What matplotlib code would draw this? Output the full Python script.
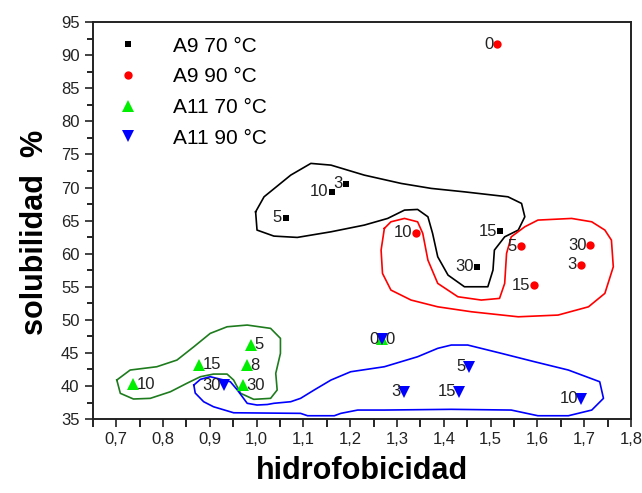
import matplotlib
matplotlib.use("Agg")
import matplotlib.pyplot as plt
from matplotlib.ticker import MultipleLocator, FuncFormatter

plt.rcParams['font.family'] = ['Liberation Sans', 'DejaVu Sans']

# --- data: hydrophobicity (x) vs solubility % (y), labelled by time ---
a9_70_time = [5, 10, 3, 15, 30]
a9_70_x = [1.062, 1.161, 1.191, 1.521, 1.471]
a9_70_y = [65.4, 69.4, 70.6, 63.4, 58.0]

a9_90_time = [0, 10, 5, 15, 30, 3]
a9_90_x = [1.514, 1.341, 1.564, 1.592, 1.712, 1.692]
a9_90_y = [91.7, 63.2, 61.1, 55.2, 61.3, 58.3]

a11_70_time = [0, 5, 8, 15, 30, 10]
a11_70_x = [1.268, 0.989, 0.980, 0.878, 0.971, 0.737]
a11_70_y = [47.1, 46.2, 43.1, 43.2, 40.1, 40.25]

a11_90_time = [0, 5, 3, 15, 10, 30]
a11_90_x = [1.268, 1.454, 1.314, 1.433, 1.694, 0.930]
a11_90_y = [47.1, 42.9, 39.1, 39.1, 38.1, 40.1]

# --- group outlines (closed curves in data units) ---
a9_70_outline_x = [0.998, 1.001, 1.037, 1.087, 1.159, 1.230, 1.280, 1.316, 1.344, 1.366,
                   1.376, 1.387, 1.409, 1.444, 1.494, 1.505, 1.508, 1.530, 1.559, 1.573,
                   1.566, 1.537, 1.444, 1.373, 1.309, 1.230, 1.159, 1.116, 1.073, 1.016]
a9_70_outline_y = [66.33, 63.57, 62.66, 62.46, 63.31, 64.32, 65.33, 66.59, 66.69, 65.58,
                   63.07, 59.53, 56.76, 55.0, 55.0, 57.52, 60.54, 62.55, 63.57, 65.58,
                   67.6, 68.6, 69.35, 69.87, 70.62, 71.88, 73.39, 73.65, 71.88, 68.6]

a9_90_outline_x = [1.273, 1.266, 1.269, 1.287, 1.330, 1.387, 1.459, 1.559, 1.644, 1.709,
                   1.744, 1.762, 1.758, 1.744, 1.716, 1.673, 1.601, 1.573, 1.544, 1.534,
                   1.530, 1.519, 1.480, 1.430, 1.387, 1.366, 1.355, 1.344, 1.316, 1.287]
a9_90_outline_y = [63.82, 60.54, 57.02, 54.5, 52.99, 51.97, 51.22, 50.46, 50.72, 51.97,
                   54.0, 58.02, 62.05, 63.57, 64.82, 65.33, 65.08, 64.07, 62.55, 60.04,
                   55.51, 53.24, 52.99, 53.49, 55.51, 59.03, 63.07, 64.82, 65.33, 64.82]

a11_70_outline_x = [0.7015, 0.709, 0.737, 0.773, 0.816, 0.851, 0.880, 0.908, 0.937, 0.951,
                    0.966, 0.994, 1.030, 1.044, 1.041, 1.051, 1.051, 1.030, 0.980, 0.937,
                    0.901, 0.866, 0.830, 0.787, 0.730]
a11_70_outline_y = [40.9, 38.89, 38.03, 38.13, 39.13, 40.4, 41.4, 41.8, 41.8, 40.9,
                    38.89, 37.98, 38.13, 39.39, 41.91, 44.93, 47.2, 48.71, 49.21, 48.95,
                    47.95, 45.93, 43.92, 42.91, 42.41]

a11_90_outline_x = [0.866, 0.880, 0.901, 0.930, 0.944, 0.959, 0.980, 1.001, 1.023, 1.037,
                    1.073, 1.094, 1.123, 1.159, 1.201, 1.273, 1.344, 1.387, 1.416, 1.451,
                    1.523, 1.594, 1.666, 1.733, 1.741, 1.716, 1.666, 1.601, 1.544, 1.416,
                    1.273, 1.216, 1.180, 1.166, 1.109, 1.094, 0.951, 0.908, 0.887, 0.869]
a11_90_outline_y = [40.14, 41.0, 41.4, 40.9, 40.64, 39.39, 37.38, 37.12, 37.2, 37.38,
                    37.62, 38.13, 39.39, 40.9, 42.15, 42.91, 44.42, 45.69, 46.19, 46.19,
                    44.93, 43.66, 42.41, 40.64, 38.13, 36.36, 35.5, 35.5, 36.36, 36.47,
                    36.36, 36.36, 35.86, 35.5, 35.5, 35.86, 35.95, 36.86, 37.62, 38.93]

x_ticks = [0.7, 0.8, 0.9, 1.0, 1.1, 1.2, 1.3, 1.4, 1.5, 1.6, 1.7, 1.8]
y_ticks = [35, 40, 45, 50, 55, 60, 65, 70, 75, 80, 85, 90, 95]

fig = plt.figure(figsize=(6.42, 4.93), dpi=100)
ax = fig.add_axes([0.1444, 0.150, 0.8386, 0.805])

# outlines
def closed(xs, ys):
    return list(xs) + [xs[0]], list(ys) + [ys[0]]

for ox, oy, col in [(a9_70_outline_x, a9_70_outline_y, 'black'),
                    (a9_90_outline_x, a9_90_outline_y, '#ff0000'),
                    (a11_70_outline_x, a11_70_outline_y, '#1e7b1e'),
                    (a11_90_outline_x, a11_90_outline_y, '#0000ff')]:
    cx, cy = closed(ox, oy)
    ax.plot(cx, cy, color=col, lw=1.2, zorder=2)

series = [
    (a9_70_x, a9_70_y, a9_70_time, 's', 'black', 5, 'A9 70 °C', 'left'),
    (a9_90_x, a9_90_y, a9_90_time, 'o', '#ff0000', 6, 'A9 90 °C', 'left'),
    (a11_70_x, a11_70_y, a11_70_time, '^', '#00ee00', 8, 'A11 70 °C', 'right'),
    (a11_90_x, a11_90_y, a11_90_time, 'v', '#0000ff', 8, 'A11 90 °C', 'left'),
]

handles = []
for xs, ys, ts, mk, col, ms, lab, side in series:
    h, = ax.plot(xs, ys, linestyle='none', marker=mk, color=col, markersize=ms,
                 markeredgewidth=0, label=lab, zorder=4)
    handles.append(h)
    for x, y, t in zip(xs, ys, ts):
        if side == 'left':
            ax.annotate(str(t), (x, y), xytext=(-2.5, 0), textcoords='offset points',
                        ha='right', va='center', fontsize=12, color='#222222', zorder=5)
        else:
            ax.annotate(str(t), (x, y), xytext=(2.5, 0), textcoords='offset points',
                        ha='left', va='center', fontsize=12, color='#222222', zorder=5)

ax.set_xlim(0.65, 1.8)
ax.set_ylim(35, 95)
ax.set_xticks(x_ticks)
ax.set_yticks(y_ticks)
ax.xaxis.set_minor_locator(MultipleLocator(0.05))
ax.yaxis.set_minor_locator(MultipleLocator(2.5))
ax.xaxis.set_major_formatter(FuncFormatter(lambda v, p: f"{v:.1f}".replace('.', ',')))
ax.tick_params(axis='both', which='major', direction='out', length=6, width=1.2,
               labelsize=12, colors='#222222')
ax.tick_params(axis='both', which='minor', direction='out', length=4, width=1.2)
ax.tick_params(axis='x', which='both', length=6)
for s in ax.spines.values():
    s.set_linewidth(1.4)
    s.set_color('#222222')

ax.set_xlabel('hidrofobicidad', fontsize=22, fontweight='bold', labelpad=6)
ax.set_ylabel('solubilidad  %', fontsize=22, fontweight='bold')
ax.yaxis.set_label_coords(-0.08, 0.47)

ax.legend(handles=handles, loc='upper left', frameon=False, fontsize=15,
          handletextpad=1.4, labelspacing=0.56, borderaxespad=0.3,
          handlelength=1.5, bbox_to_anchor=(0.009, 1.0))

fig.savefig('out.png', dpi=100)
